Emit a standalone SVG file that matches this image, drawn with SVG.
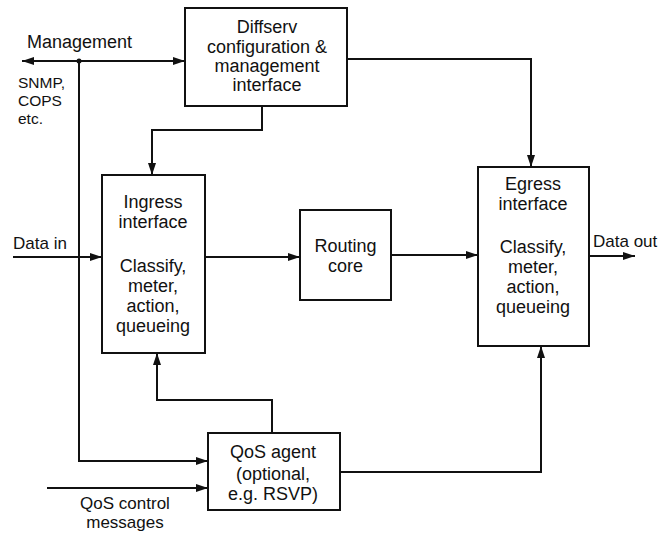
<svg xmlns="http://www.w3.org/2000/svg" width="658" height="534" viewBox="0 0 658 534">
<style>
.box{fill:#fff;stroke:#111;stroke-width:2}
.ln{fill:none;stroke:#111;stroke-width:2}
text{font-family:"Liberation Sans",Arial,sans-serif;font-size:18px;fill:#111}
.c{text-anchor:middle}
.s{font-size:15.5px}
</style>
<defs>
<marker id="ah" markerUnits="userSpaceOnUse" markerWidth="12" markerHeight="10" viewBox="0 0 12 10" refX="12" refY="5" orient="auto-start-reverse">
<path d="M0,1 L12,5 L0,9 Z" fill="#111"/>
</marker>
</defs>
<rect width="658" height="534" fill="#fff"/>
<g id="connectors">
<path class="ln" d="M22,61 H185" marker-start="url(#ah)" marker-end="url(#ah)"/>
<circle cx="79" cy="61" r="2.5" fill="#111"/>
<path class="ln" d="M79,61 V461 H208" marker-end="url(#ah)"/>
<path class="ln" d="M262,106 V130 H152 V175" marker-end="url(#ah)"/>
<path class="ln" d="M347,59 H531 V167" marker-end="url(#ah)"/>
<path class="ln" d="M13,257 H102" marker-end="url(#ah)"/>
<path class="ln" d="M205,257 H300" marker-end="url(#ah)"/>
<path class="ln" d="M391,255 H478" marker-end="url(#ah)"/>
<path class="ln" d="M589,256 H635" marker-end="url(#ah)"/>
<path class="ln" d="M272,433 V400 H157 V353" marker-end="url(#ah)"/>
<path class="ln" d="M340,472 H541 V346" marker-end="url(#ah)"/>
<path class="ln" d="M47,488 H208" marker-end="url(#ah)"/>
</g>
<g id="labels">
<text x="27" y="48">Management</text>
<text class="s" x="18" y="88">SNMP,</text>
<text class="s" x="18" y="106">COPS</text>
<text class="s" x="18" y="124">etc.</text>
<text x="13" y="249" style="font-size:17px">Data in</text>
<text x="593" y="247" style="font-size:17px">Data out</text>
<text class="c" x="125" y="509" style="font-size:17px">QoS control</text>
<text class="c" x="125" y="528" style="font-size:17px">messages</text>
</g>
<g id="diffserv">
<rect class="box" x="185" y="8" width="162" height="98"/>
<text class="c" x="267" y="33">Diffserv</text>
<text class="c" x="267" y="53">configuration &amp;</text>
<text class="c" x="267" y="72">management</text>
<text class="c" x="267" y="91">interface</text>
</g>
<g id="ingress">
<rect class="box" x="102" y="175" width="103" height="178"/>
<text class="c" x="153" y="208">Ingress</text>
<text class="c" x="153" y="228">interface</text>
<text class="c" x="153" y="272">Classify,</text>
<text class="c" x="153" y="292">meter,</text>
<text class="c" x="153" y="312">action,</text>
<text class="c" x="153" y="332">queueing</text>
</g>
<g id="routing">
<rect class="box" x="300" y="210" width="91" height="90"/>
<text class="c" x="345.5" y="252">Routing</text>
<text class="c" x="345.5" y="272">core</text>
</g>
<g id="egress">
<rect class="box" x="478" y="167" width="111" height="179"/>
<text class="c" x="533" y="190">Egress</text>
<text class="c" x="533" y="210">interface</text>
<text class="c" x="533" y="253">Classify,</text>
<text class="c" x="533" y="273">meter,</text>
<text class="c" x="533" y="293">action,</text>
<text class="c" x="533" y="313">queueing</text>
</g>
<g id="qos">
<rect class="box" x="208" y="433" width="132" height="77"/>
<text class="c" x="273" y="458">QoS agent</text>
<text class="c" x="273" y="480">(optional,</text>
<text class="c" x="273" y="500">e.g. RSVP)</text>
</g>
</svg>
